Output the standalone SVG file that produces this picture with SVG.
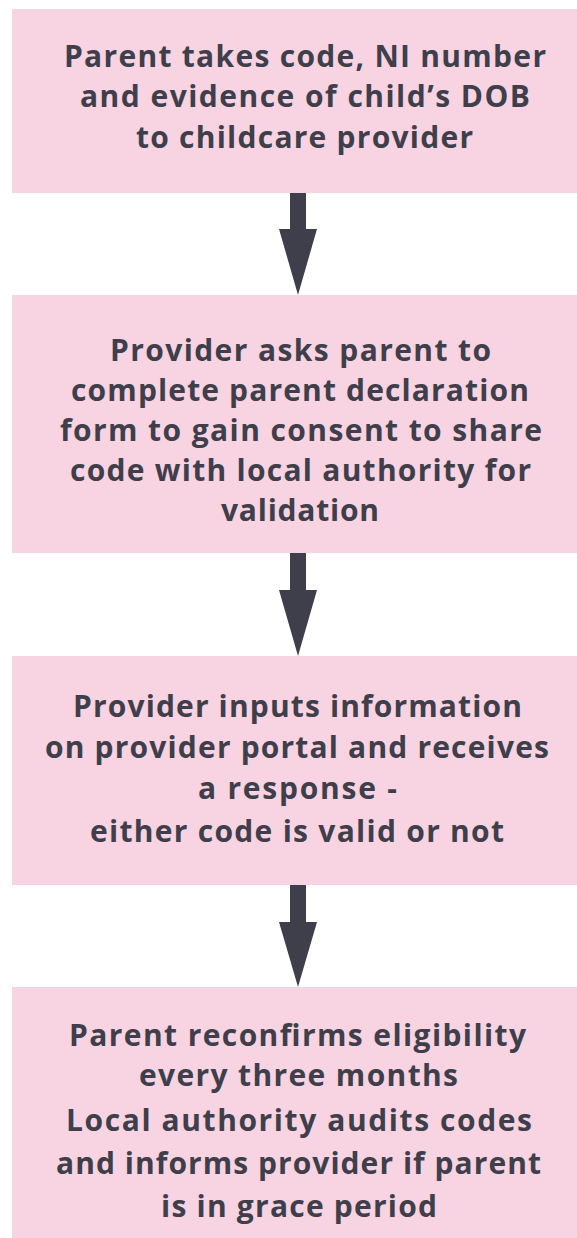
<svg xmlns="http://www.w3.org/2000/svg" width="577" height="1238" viewBox="0 0 577 1238">
<style>
.box{fill:#f8d3e1}
.t{font-family:"Open Sans","Liberation Sans",sans-serif;font-weight:700;font-size:30px;fill:#3e3f4b;text-anchor:middle}
.arr{fill:#3e3f4b}
</style>
<rect x="0" y="0" width="577" height="1238" fill="#ffffff"/>
<g id="node1">
<rect class="box" x="12" y="9" width="580" height="184"/>
<text class="t" x="305" y="67" textLength="482" lengthAdjust="spacing">Parent takes code, NI number</text>
<text class="t" x="305" y="107" textLength="450" lengthAdjust="spacing">and evidence of child’s DOB</text>
<text class="t" x="304.5" y="148" textLength="337" lengthAdjust="spacing">to childcare provider</text>
</g>
<g id="node2">
<rect class="box" x="12" y="295" width="580" height="258"/>
<text class="t" x="300.5" y="361" textLength="381" lengthAdjust="spacing">Provider asks parent to</text>
<text class="t" x="300" y="401" textLength="458" lengthAdjust="spacing">complete parent declaration</text>
<text class="t" x="301" y="441" textLength="482" lengthAdjust="spacing">form to gain consent to share</text>
<text class="t" x="300.5" y="481" textLength="461" lengthAdjust="spacing">code with local authority for</text>
<text class="t" x="300" y="521" textLength="158" lengthAdjust="spacing">validation</text>
</g>
<g id="node3">
<rect class="box" x="12" y="656" width="580" height="229"/>
<text class="t" x="297.5" y="717" textLength="449" lengthAdjust="spacing">Provider inputs information</text>
<text class="t" x="297" y="758" textLength="504" lengthAdjust="spacing">on provider portal and receives</text>
<text class="t" x="297.5" y="799" textLength="199" lengthAdjust="spacing">a response -</text>
<text class="t" x="297" y="842" textLength="414" lengthAdjust="spacing">either code is valid or not</text>
</g>
<g id="node4">
<rect class="box" x="12" y="987" width="580" height="260"/>
<text class="t" x="297.5" y="1046" textLength="457" lengthAdjust="spacing">Parent reconfirms eligibility</text>
<text class="t" x="298.5" y="1086" textLength="319" lengthAdjust="spacing">every three months</text>
<text class="t" x="299" y="1131" textLength="466" lengthAdjust="spacing">Local authority audits codes</text>
<text class="t" x="298.5" y="1174" textLength="485" lengthAdjust="spacing">and informs provider if parent</text>
<text class="t" x="299" y="1217" textLength="276" lengthAdjust="spacing">is in grace period</text>
</g>
<g id="connectors">
<polygon class="arr" points="290,193 306,193 306,229 317,229 298,295 279,229 290,229"/>
<polygon class="arr" points="290,553 306,553 306,590 317,590 298,656 279,590 290,590"/>
<polygon class="arr" points="290,885 306,885 306,922 317,922 298,987 279,922 290,922"/>
</g>
</svg>
